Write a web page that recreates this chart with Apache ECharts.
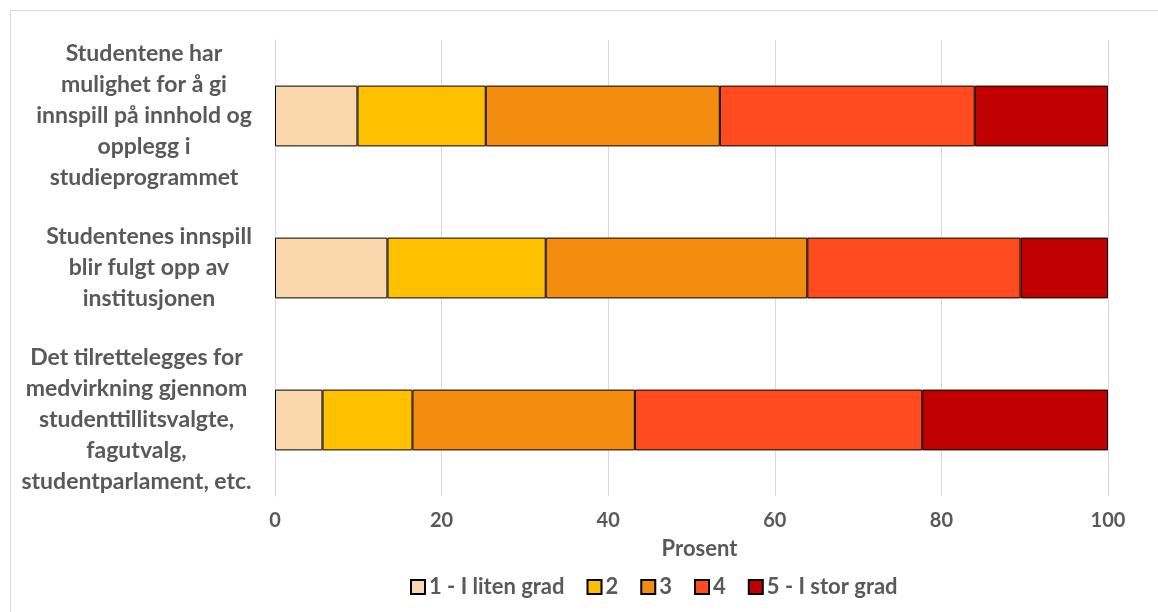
<!DOCTYPE html>
<html>
<head>
<meta charset="utf-8">
<script src="https://cdn.jsdelivr.net/npm/echarts@6/dist/echarts.min.js"></script>
<style>
html,body{margin:0;padding:0;background:#fff;}
#frame{position:absolute;left:10px;top:10px;width:1160px;height:620px;border:1px solid #d9d9d9;box-sizing:border-box;}
#chart{position:absolute;left:0;top:0;width:1158px;height:612px;}
</style>
</head>
<body>
<div id="frame"></div>
<div id="chart"></div>
<script>
const categories = [
  "Studentene har\nmulighet for å gi\ninnspill på innhold og\nopplegg i\nstudieprogrammet",
  "Studentenes innspill\nblir fulgt opp av\ninstitusjonen",
  "Det tilrettelegges for\nmedvirkning gjennom\nstudenttillitsvalgte,\nfagutvalg,\nstudentparlament, etc."
];
const seriesNames = ["1 - I liten grad", "2", "3", "4", "5 - I stor grad"];
const s1 = [9.9, 13.5, 5.7];
const s2 = [15.4, 19.0, 10.8];
const s3 = [28.1, 31.4, 26.7];
const s4 = [30.6, 25.6, 34.5];
const s5 = [16.0, 10.5, 22.3];
const colors = ["#fad7ac", "#ffc000", "#f48c10", "#ff4b1f", "#c00000"];
const axisTitle = "Prosent";

const font = "Lato, 'Open Sans', sans-serif";
const catFontSize = 23;
// measure widest line of each label so lines are centred in a right-aligned block
const ctx = document.createElement('canvas').getContext('2d');
ctx.font = 'bold ' + catFontSize + 'px ' + font;
const rich = {};
categories.forEach((c, i) => {
  const w = Math.ceil(Math.max(...c.split('\n').map(l => ctx.measureText(l).width)));
  rich['c' + i] = {width: w, align: 'center', color: '#595959', fontSize: catFontSize, fontWeight: 'bold', fontFamily: font, lineHeight: 31};
});

const chart = echarts.init(document.getElementById('chart'), null, {renderer: 'canvas'});
const values = [s1, s2, s3, s4, s5];
chart.setOption({
  animation: false,
  color: colors,
  grid: {left: 275, right: 50, top: 40, bottom: 116, containLabel: false, outerBoundsMode: 'none'},
  legend: {
    left: 405, top: 571,
    itemWidth: 14, itemHeight: 14, itemGap: 22,
    icon: 'rect',
    textStyle: {color: '#595959', fontSize: 22, fontWeight: 'bold', fontFamily: font, padding: [0,0,0,-1]},
    data: seriesNames
  },
  xAxis: {
    type: 'value', min: 0, max: 100, interval: 20,
    name: axisTitle, nameLocation: 'middle', nameGap: 42,
    nameTextStyle: {color: '#595959', fontSize: 22, fontWeight: 'bold', fontFamily: font, padding: [0,0,0,16]},
    axisLine: {show: false}, axisTick: {show: false},
    splitLine: {lineStyle: {color: '#d9d9d9', width: 1}},
    axisLabel: {color: '#595959', fontSize: 20, fontWeight: 'bold', fontFamily: font, margin: 15}
  },
  yAxis: {
    type: 'category', data: categories, inverse: true,
    axisLine: {lineStyle: {color: '#d9d9d9'}}, axisTick: {show: false},
    axisLabel: {
      color: '#595959', fontSize: catFontSize, fontWeight: 'bold', fontFamily: font, lineHeight: 31,
      align: 'right', margin: 23,
      formatter: (value, index) => value.split('\n').map(l => '{c' + index + '|' + l + '}').join('\n'),
      rich: rich
    }
  },
  series: values.map((v, i) => ({
    name: seriesNames[i], type: 'bar', stack: 'total', data: v,
    barCategoryGap: '60%',
    itemStyle: {color: colors[i], borderColor: '#000', borderWidth: 1}
  }))
});
</script>
</body>
</html>
